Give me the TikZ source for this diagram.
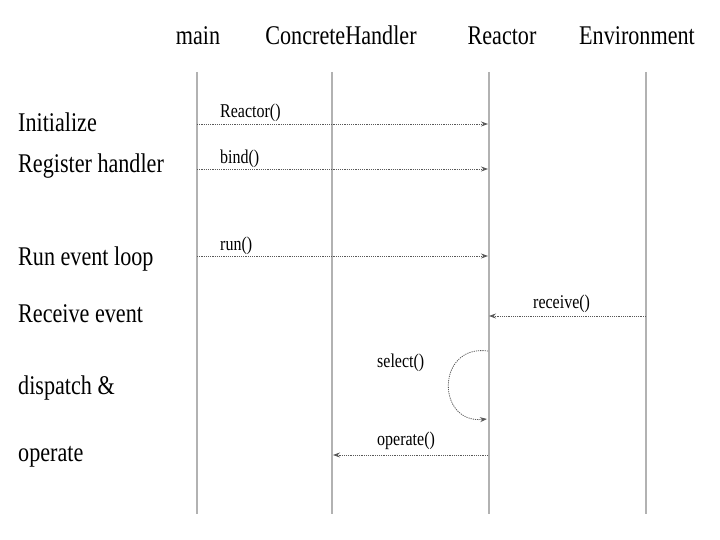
\documentclass[tikz,border=0pt]{standalone}
\usepackage{fontspec}
\setmainfont{Liberation Serif}[FakeStretch=0.82]
\usetikzlibrary{arrows.meta}
\begin{document}
\begin{tikzpicture}[x=1pt,y=-1pt,
  lifeline/.style={draw=black!30,line width=2.4pt},
  head/.style={font=\fontsize{27}{30}\selectfont,anchor=base},
  phase/.style={font=\fontsize{27}{30}\selectfont,anchor=base west,inner sep=0pt},
  msglabel/.style={font=\fontsize{19.5}{22}\selectfont,anchor=base west,inner sep=0pt},
  msg/.style={draw=black!65,line width=0.8pt,dash pattern=on 1.2pt off 1pt,
    -{Stealth[length=7pt,width=5pt,fill=black!55]}}]
\useasboundingbox (0,0) rectangle (720,540);
% headers
\node[head] (hmain) at (198,45) {main};
\node[head] (hch) at (341,45) {ConcreteHandler};
\node[head] (hre) at (502,45) {Reactor};
\node[head] (hen) at (637,45) {Environment};
% lifelines
\coordinate (mt) at (197,72); \coordinate (mb) at (197,514);
\coordinate (ct) at (332,72); \coordinate (cb) at (332,514);
\coordinate (rt) at (489,72); \coordinate (rb) at (489,514);
\coordinate (et) at (646,72); \coordinate (eb) at (646,514);
\draw[lifeline] (mt) -- (mb);
\draw[lifeline] (ct) -- (cb);
\draw[lifeline] (rt) -- (rb);
\draw[lifeline] (et) -- (eb);
% phase labels
\node[phase] (p1) at (18,132) {Initialize};
\node[phase] (p2) at (18,173) {Register handler};
\node[phase] (p3) at (18,265) {Run event loop};
\node[phase] (p4) at (18,322) {Receive event};
\node[phase] (p5) at (18,394) {dispatch \&};
\node[phase] (p6) at (18,461) {operate};
% message endpoints
\coordinate (m1) at (197,124); \coordinate (r1) at (488,124);
\coordinate (m2) at (197,169); \coordinate (r2) at (488,169);
\coordinate (m3) at (197,256); \coordinate (r3) at (488,256);
\coordinate (e4) at (646,316); \coordinate (r4) at (489,316);
\coordinate (r5a) at (488,351); \coordinate (r5b) at (487,419);
\coordinate (r6) at (488,455); \coordinate (c6) at (333,455);
% messages
\draw[msg] (m1) -- (r1);
\draw[msg] (m2) -- (r2);
\draw[msg] (m3) -- (r3);
\draw[msg] (e4) -- (r4);
\draw[msg] (r5a) .. controls (436,344) and (436,424) .. (r5b);
\draw[msg] (r6) -- (c6);
% message labels
\node[msglabel] (l1) at (220,118) {Reactor()};
\node[msglabel] (l2) at (220,164) {bind()};
\node[msglabel] (l3) at (220,250) {run()};
\node[msglabel] (l4) at (533,308) {receive()};
\node[msglabel] (l5) at (377,367) {select()};
\node[msglabel] (l6) at (377,445) {operate()};
\end{tikzpicture}
\end{document}
